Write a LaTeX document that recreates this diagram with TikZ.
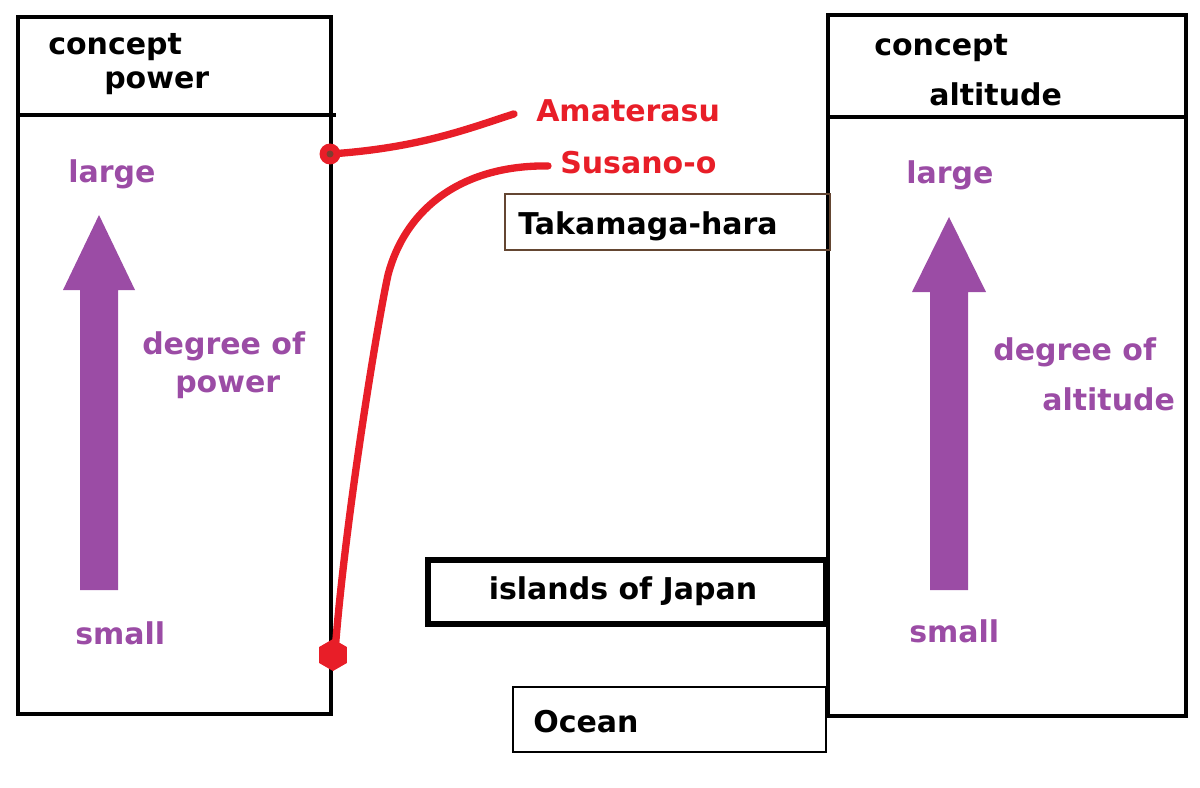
\documentclass[tikz,border=0pt]{standalone}
\usepackage{fontspec}
\setmainfont{DejaVu Sans}
\usetikzlibrary{shapes.geometric}
\definecolor{pur}{RGB}{155,76,165}
\definecolor{rd}{RGB}{232,30,40}
\definecolor{brn}{RGB}{100,70,50}
\begin{document}
\begin{tikzpicture}[x=0.75pt,y=-0.75pt,
  lbl/.style={font=\bfseries\fontsize{22.5}{26}\selectfont,inner sep=0pt,anchor=west,yshift=-2.2pt},
  plbl/.style={lbl,text=pur},
  rlbl/.style={lbl,text=rd},
  frame/.style={draw=black,line width=3pt},
  bar/.style={fill=pur,draw=none},
  redline/.style={draw=rd,line width=5.5pt,line cap=round}]
\useasboundingbox (0,0) rectangle (1200,788);
% left concept box
\draw[frame] (18,17) rectangle (331,714);
\draw[frame] (18,115) -- (336,115);
\node[lbl] (cp1) at (48,44) {concept};
\node[lbl] (cp2) at (104,80) {power};
\node[plbl] (lg1) at (68,171) {large};
\node[plbl] (dg1) at (142,343) {degree of};
\node[plbl] (dp1) at (175,384) {power};
\node[plbl] (sm1) at (75,630) {small};
\fill[bar] (80,590) -- (80,290) -- (63,290) -- (99,215) -- (135,290) -- (118,290) -- (118,590) -- cycle;
% right concept box
\draw[frame] (828,15) rectangle (1186,716);
\draw[frame] (828,117) -- (1188,117);
\node[lbl] (ca1) at (874,45) {concept};
\node[lbl] (ca2) at (929,91) {altitude};
\node[plbl] (lg2) at (906,172) {large};
\node[plbl] (dg2) at (993,349) {degree of};
\node[plbl] (da2) at (1042,396) {altitude};
\node[plbl] (sm2) at (909,628) {small};
\fill[bar] (930,590) -- (930,292) -- (912,292) -- (949,217) -- (986,292) -- (968,292) -- (968,590) -- cycle;
% place boxes
\draw[draw=brn,line width=1.5pt] (505,194) rectangle (830,250);
\node[lbl] (tk) at (518,223) {Takamaga-hara};
\draw[draw=black,line width=3.8pt] (428,560) rectangle (826,624);
\node[lbl,anchor=center] (ij) at (623,588) {islands of Japan};
\draw[draw=black,line width=2.2pt] (513,687) rectangle (826,752);
\node[lbl] (oc) at (533,719) {Ocean};
% deities
\node[rlbl] (am) at (536,108) {Amaterasu};
\node[rlbl] (su) at (560,160) {Susano-o};
\coordinate (amdot) at (330,154);
\coordinate (sudot) at (335,652);
\coordinate (ams) at ([shift={(-22,3)}]am.west);
\coordinate (sus) at ([shift={(-12,3)}]su.west);
\draw[redline] (ams) .. controls (470,128) and (420,148) .. (amdot);
\draw[redline] (sus) .. controls (460,165) and (405,210) .. (388,275)
  .. controls (378,320) and (345,520) .. (sudot);
\fill[rd] (amdot) circle (10.5);
\fill[brn!80!rd] (amdot) circle (3.5);
\node[regular polygon,regular polygon sides=6,shape border rotate=30,fill=rd,minimum size=24pt,inner sep=0pt] (hex) at (333,655) {};
\end{tikzpicture}
\end{document}
